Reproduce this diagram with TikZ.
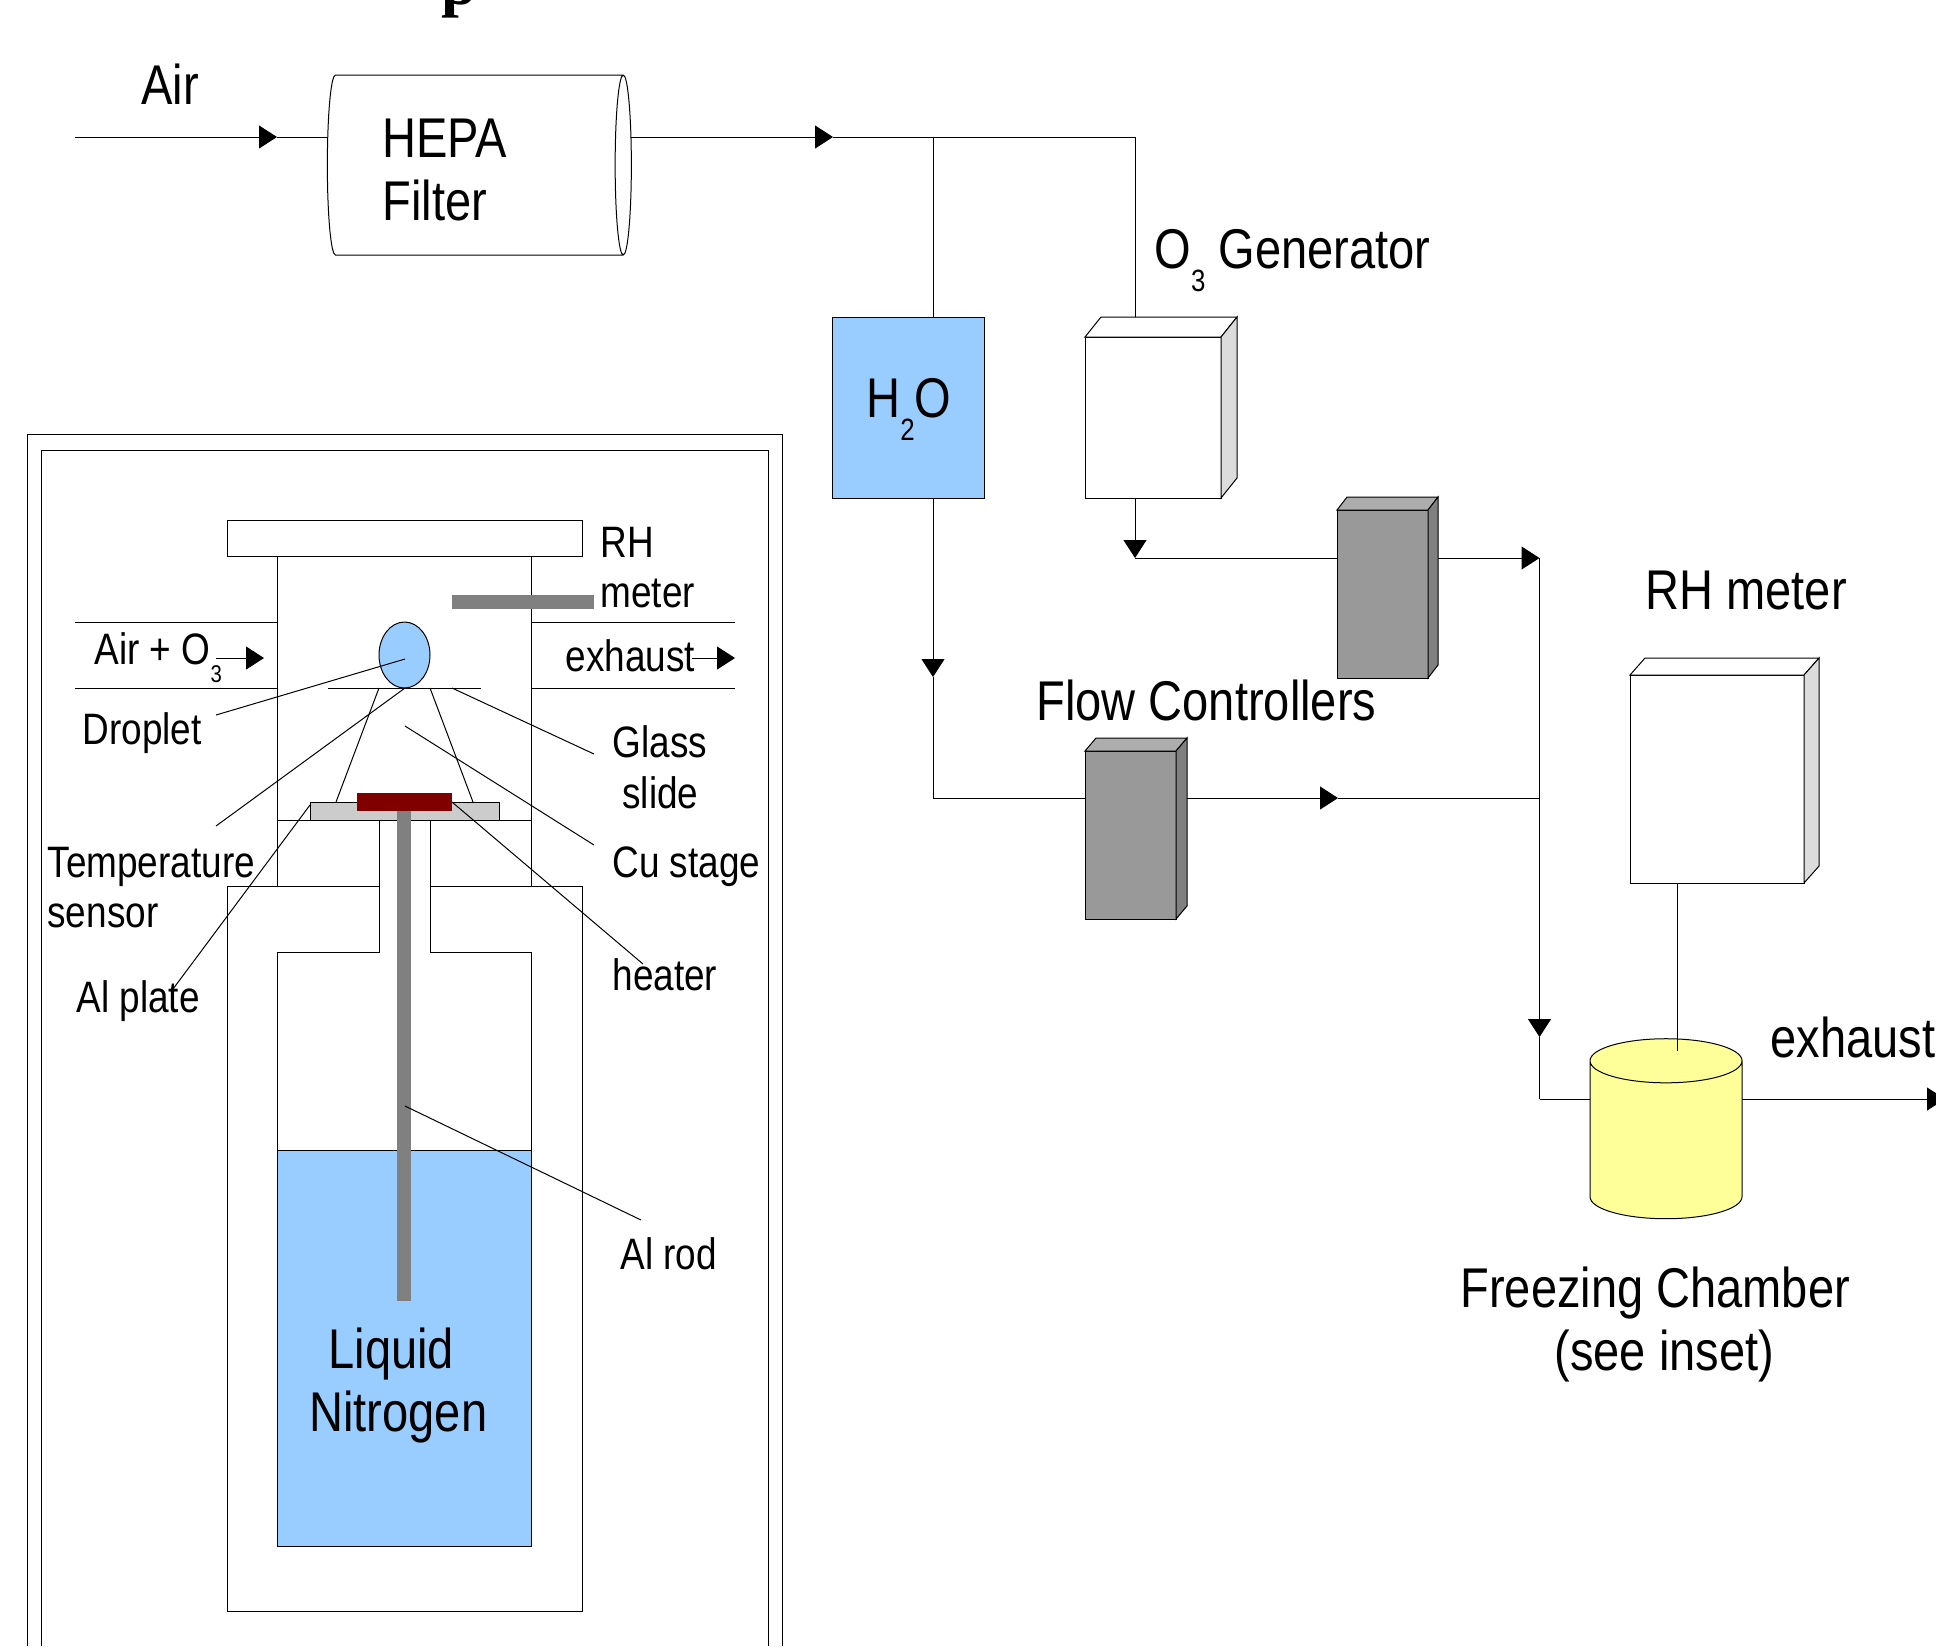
\documentclass[tikz,border=0pt]{standalone}
\usepackage{fontspec}
\setmainfont[FakeStretch=0.84]{Liberation Sans}
\newfontfamily\titlefont{Liberation Serif}
\usetikzlibrary{arrows.meta,calc,shapes.geometric}
\definecolor{water}{HTML}{99CCFF}
\definecolor{yellowfill}{HTML}{FFFF99}
\definecolor{flowfront}{HTML}{999999}
\definecolor{flowtop}{HTML}{ADADAD}
\definecolor{darkside}{HTML}{808080}
\definecolor{paleside}{HTML}{DCDCDC}
\definecolor{heaterred}{HTML}{800000}
\definecolor{plategrey}{HTML}{CCCCCC}
\newcommand{\subnum}[1]{\raisebox{-.42em}{\scalebox{.55}{#1}}}
\newcommand{\boxsides}[5]{%
	\filldraw[fill=#4] (#1.north west) -- ++(#2,#3) -- ($(#1.north east)+(#2,#3)$) -- (#1.north east) -- cycle;
	\filldraw[fill=#5] (#1.north east) -- ++(#2,#3) -- ($(#1.south east)+(#2,#3)$) -- (#1.south east) -- cycle;
}

\begin{document}
\begin{tikzpicture}[x=.5pt,y=-.5pt,line width=.5pt,>={Triangle[length=9pt,width=11.5pt]},
		base node/.style={draw,rectangle,inner sep=0pt,outer sep=0pt},
		tube node/.style={draw,shape=cylinder,outer sep=0pt},
		big text/.style={anchor=base west,inner sep=0pt,font=\fontsize{28}{28}\selectfont},
		small text/.style={anchor=base west,inner sep=0pt,font=\fontsize{22}{22}\selectfont},
		solid part/.style={rectangle,inner sep=0pt,outer sep=0pt}]
		\useasboundingbox (0,0) rectangle (1936,1646);

		\node[anchor=base west,inner sep=0pt,font=\titlefont\bfseries\fontsize{32}{32}\selectfont](titlep) at (441,4){p};

		% flow system
		\node[tube node,minimum height=152pt,minimum width=90pt,inner xsep=0pt,inner ysep=45pt,shape aspect=.09](hepa) at (471,165){};
		\node[base node,fill=water,minimum width=76pt,minimum height=90.5pt](wat) at (908,407.5){};
		\node[base node,fill=white,minimum width=68pt,minimum height=80.5pt](ozone) at (1153,417.5){};
		\boxsides{ozone}{16}{-20}{white}{paleside}
		\node[base node,fill=flowfront,minimum width=45.5pt,minimum height=84pt](flowa) at (1382.5,594){};
		\boxsides{flowa}{10}{-13}{flowtop}{darkside}
		\node[base node,fill=flowfront,minimum width=45.5pt,minimum height=84pt](flowb) at (1130.5,835){};
		\boxsides{flowb}{11}{-13}{flowtop}{darkside}
		\node[base node,fill=white,minimum width=87pt,minimum height=104pt](rhbox) at (1717,779){};
		\boxsides{rhbox}{15}{-17}{white}{paleside}
		\node[tube node,shape border rotate=90,fill=yellowfill,minimum height=90pt,minimum width=76pt,inner xsep=38pt,inner ysep=0pt,shape aspect=.29](chamber) at (1666,1151){};

		\coordinate (airin) at (75,137);
		\coordinate (airtip) at (277,137);
		\coordinate (hepatip) at (833,137);
		\coordinate (watertop) at (933,137);
		\coordinate (ozonecorner) at (1135,137);
		\coordinate (ozonetop) at (1135,317);
		\coordinate (watertip) at (933,677);
		\coordinate (watercorner) at (933,798);
		\coordinate (ozonetip) at (1135,558);
		\coordinate (flowatip) at (1539.5,558);
		\coordinate (flowbtip) at (1338,798);
		\coordinate (mixtee) at (1539.5,798);
		\coordinate (mixtip) at (1539.5,1037);
		\coordinate (mixcorner) at (1539.5,1099);
		\coordinate (exhausttip) at (1945,1099);
		\coordinate (rhprobe) at (1677,1051);

		\path[draw]
		(airin) edge [->] (airtip)
		(airtip) edge (airtip -| hepa.west)
		(airtip -| hepa.east) edge [->] (hepatip)
		(hepatip) edge (ozonecorner)
		(ozonecorner) edge (ozonetop)
		(watertop) edge (watertop |- wat.north)
		(watertop |- wat.south) edge [->] (watertip)
		(watertip) edge (watercorner)
		(watercorner) edge (watercorner -| flowb.west)
		(ozonetop |- ozone.south) edge [->] (ozonetip)
		(ozonetip) edge (ozonetip -| flowa.west)
		(1438,558) edge [->] (flowatip)
		(1187,798) edge [->] (flowbtip)
		(flowbtip) edge (mixtee)
		(flowatip) edge (mixtee)
		(mixtee) edge [->] (mixtip)
		(mixtip) edge (mixcorner)
		(mixcorner) edge (1590,1099)
		(1742,1099) edge [->] (exhausttip)
		(rhprobe |- rhbox.south) edge (rhprobe);

		\node[big text](airlab) at (141,104){Air};
		\node[big text,align=left](hepalab1) at (382,157){HEPA};
		\node[big text](hepalab2) at (382,220){Filter};
		\node[big text](ozonelab) at (1154,268){O\subnum{3}\ Generator};
		\node[big text](watlab) at (866,417){H\subnum{2}O};
		\node[big text](rhlab) at (1645,609){RH meter};
		\node[big text](flowlab) at (1036,720){Flow Controllers};
		\node[big text](exhlab) at (1770,1057){exhaust};
		\node[big text](chamlab1) at (1460,1307){Freezing Chamber};
		\node[big text](chamlab2) at (1554,1370){(see inset)};

		% inset
		\draw (27,1646) -- (27,434) -- (782,434) -- (782,1646);
		\draw (41,1646) -- (41,450) -- (768,450) -- (768,1646);
		\draw (277,557) -- (277,886);
		\draw (531,557) -- (531,886);
		\draw (75,622) -- (277,622);
		\draw (75,688) -- (277,688);
		\draw (531,622) -- (735,622);
		\draw (531,688) -- (735,688);
		\draw (379,820) -- (379,952) -- (277,952) -- (277,1150);
		\draw (430,820) -- (430,952) -- (531,952) -- (531,1150);
		\draw (379,886) -- (227,886) -- (227,1611) -- (582,1611) -- (582,886) -- (430,886);
		\node[base node,fill=white,minimum width=177.5pt,minimum height=18pt](plate) at (404.5,538.5){};
		\node[base node,fill=water,minimum width=127pt,minimum height=198pt](nitro) at (404,1348){};
		\draw (277,820) -- (531,820);
		\draw (328,688) -- (481,688);
		\draw (379,688) -- (336,802);
		\draw (430,688) -- (473,802);
		\node[base node,fill=plategrey,minimum width=94.5pt,minimum height=9pt](alplate) at (404.5,811){};
		\node[solid part,fill=darkside,minimum width=7pt,minimum height=245pt](alrod) at (404,1056){};
		\node[solid part,fill=heaterred,minimum width=47.5pt,minimum height=9pt](heat) at (404.5,802){};
		\node[solid part,fill=darkside,minimum width=71pt,minimum height=7pt](rhbar) at (523,602){};
		\node[draw,ellipse,fill=water,inner sep=0pt,outer sep=0pt,minimum width=25.5pt,minimum height=33pt](drop) at (404.5,655){};

		\coordinate (dropin) at (405,659);
		\coordinate (dropout) at (216,715);
		\coordinate (tempin) at (405,688);
		\coordinate (tempout) at (216,826);
		\coordinate (alin) at (310,805);
		\coordinate (alout) at (173,989);
		\coordinate (glassin) at (452,688);
		\coordinate (glassout) at (594,754);
		\coordinate (cuin) at (405,726);
		\coordinate (cuout) at (594,845);
		\coordinate (heatin) at (452,802);
		\coordinate (heatout) at (643,964);
		\coordinate (rodin) at (405,1106);
		\coordinate (rodout) at (641,1220);
		\coordinate (inlet) at (216,658);
		\coordinate (inlettip) at (264,658);
		\coordinate (outlet) at (692,658);
		\coordinate (outlettip) at (735,658);

		\path[draw]
		(dropin) edge (dropout)
		(tempin) edge (tempout)
		(alin) edge (alout)
		(glassin) edge (glassout)
		(cuin) edge (cuout)
		(heatin) edge (heatout)
		(rodin) edge (rodout)
		(inlet) edge [->] (inlettip)
		(outlet) edge [->] (outlettip);

		\node[small text](inlab) at (94,664){Air + O\subnum{3}};
		\node[small text](outlab) at (565,671){exhaust};
		\node[small text](rhlab1) at (600,557){RH};
		\node[small text](rhlab2) at (600,607){meter};
		\node[small text](droplab) at (82,744){Droplet};
		\node[small text](glasslab1) at (612,757){Glass};
		\node[small text](glasslab2) at (622,808){slide};
		\node[small text](culab) at (612,877){Cu stage};
		\node[small text](templab1) at (47,877){Temperature};
		\node[small text](templab2) at (47,927){sensor};
		\node[small text](allab) at (76,1012){Al plate};
		\node[small text](heatlab) at (612,990){heater};
		\node[small text](rodlab) at (620,1269){Al rod};
		\node[big text](nitrolab1) at (328,1368){Liquid};
		\node[big text](nitrolab2) at (309,1431){Nitrogen};

	\end{tikzpicture}
\end{document}
